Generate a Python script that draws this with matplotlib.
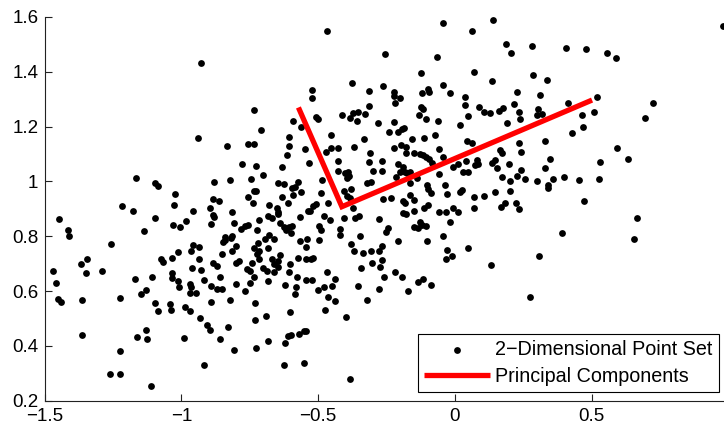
import matplotlib
matplotlib.use("Agg")
import matplotlib.pyplot as plt

# ---------------- data ----------------
point_x = [
    # upper-left
    -0.928, -0.735, -0.709, -0.939,
    # upper-middle
    -0.467, -0.042, 0.063, 0.140, -0.257, -0.064, -0.124, 0.072, 0.135, -0.375,
    -0.522, -0.522, -0.314, -0.263, -0.223, -0.221, -0.200, -0.218, -0.121, -0.097,
    -0.095, -0.042, -0.018, 0.038, 0.037, 0.088, 0.105, 0.129, 0.050, 0.019,
    -0.060, -0.107, -0.132, -0.123, -0.118, -0.314, -0.329, -0.357, -0.354, -0.372,
    -0.385, -0.411, -0.508, -0.501, -0.591, -0.562, -0.607, -0.452, -0.280, -0.224,
    -0.239, -0.206, -0.194, -0.184, -0.331, -0.155, -0.111, -0.073, 0.046, 0.062,
    # upper-right
    0.189, 0.205, 0.283, 0.407, 0.480, 0.557, 0.590, 0.982, 0.286, 0.339,
    0.227, 0.313, 0.521, 0.726, 0.697, 0.414, 0.510, 0.467, 0.470, 0.429,
    0.331, 0.236, 0.163, 0.178, 0.217, 0.233, 0.240, 0.192, 0.303, 0.300, 0.320,
    # middle-left
    -0.832, -0.755, -0.735, -0.780, -0.726, -0.703, -0.745, -0.821, -0.879, -1.166,
    -1.095, -1.086, -1.023, -1.027, -1.219, -1.177, -1.447, -1.415, -1.410, -1.136,
    -1.096, -1.029, -1.004, -0.982, -0.957, -0.897, -0.886, -0.861, -0.883, -0.879,
    -0.891, -0.814, -0.808, -0.756, -0.739, -0.735, -0.726, -0.681, -0.685, -0.715,
    -0.767, -0.781, -0.758, -0.725, -0.681, -0.694, -0.718, -0.736, -0.717, -0.724,
    -0.684, -0.715, -0.741, -0.760, -0.748, -0.700, -0.687, -0.801, -0.814, -0.840,
    -0.842, -0.847, -0.814, -0.817, -0.850, -0.791, -0.801, -0.883, -0.870, -0.928,
    -0.960, -0.935, -0.956, -0.934, -0.964, -1.011, -1.035, -1.076, -1.068, -1.259,
    -1.345, -1.369, -1.291, -1.470,
    # lower-left
    -1.348, -1.034, -1.458, -1.450, -1.440, -1.364, -1.363, -1.223, -1.225, -1.260,
    -1.226, -1.110, -1.168, -1.109, -1.146, -1.131, -1.096, -1.085, -1.163, -1.129,
    -1.124, -1.034, -1.013, -1.009, -1.042, -1.037, -0.987, -0.967, -0.990, -0.967,
    -0.965, -0.970, -0.948, -0.918, -0.890, -0.869, -0.850, -0.858, -0.891, -0.824,
    -0.800, -0.767, -0.749, -0.736, -0.683, -0.729, -0.692, -0.730, -0.684, -0.726,
    -0.806, -0.857, -0.830, -0.907, -0.897, -0.932, -0.919,
    # lower-middle
    -0.620, -0.580, -0.583, -0.577, -0.545, -0.524, -0.502, -0.478, -0.450, -0.440,
    -0.462, -0.437, -0.475, -0.601, -0.397, -0.355, -0.322, -0.278, -0.258, -0.218,
    -0.193, -0.173, -0.135, -0.115, -0.087, -0.622, -0.611, -0.598, -0.570, -0.552,
    -0.543, -0.624, -0.553, -0.383, 0.275,
    # middle-right
    0.166, 0.172, 0.241, 0.147, 0.137, 0.154, 0.200, 0.243, 0.227, 0.172,
    0.203, 0.258, 0.301, 0.347, 0.331, 0.360, 0.341, 0.340, 0.398, 0.454,
    0.526, 0.532, 0.592, 0.634, 0.473, 0.146, 0.203, 0.185, 0.169, 0.224,
    0.235, 0.668, 0.391, 0.654, 0.309, 0.133,
    # centre (left half)
    -0.606, -0.547, -0.613, -0.632, -0.535, -0.472, -0.452, -0.428, -0.428, -0.370,
    -0.310, -0.313, -0.265, -0.426, -0.401, -0.391, -0.386, -0.395, -0.298, -0.265,
    -0.322, -0.306, -0.486, -0.647, -0.623, -0.574, -0.596, -0.586, -0.562, -0.590,
    -0.632, -0.611, -0.489, -0.464, -0.508, -0.517, -0.537, -0.529, -0.651, -0.647,
    -0.645, -0.667, -0.639, -0.623, -0.608, -0.618, -0.596, -0.566, -0.477, -0.456,
    -0.404, -0.380, -0.395, -0.383, -0.374, -0.365, -0.352, -0.404, -0.276, -0.598,
    -0.663, -0.496, -0.489, -0.419, -0.419, -0.346, -0.566, -0.541, -0.496, -0.545,
    -0.380, -0.370, -0.335, -0.306, -0.279, -0.267, -0.669, -0.639, -0.645, -0.663,
    -0.647, -0.574, -0.545, -0.525, -0.517, -0.602, -0.608, -0.660, -0.468, -0.343,
    -0.303, -0.273, -0.267,
    # centre (right half)
    -0.222, -0.197, -0.178, -0.178, -0.151, -0.129, -0.117, -0.105, -0.093, -0.084,
    -0.044, -0.056, -0.206, -0.190, -0.200, -0.182, -0.163, -0.215, -0.175, -0.163,
    -0.137, -0.058, -0.007, 0.010, 0.041, 0.029, 0.050, 0.080, 0.074, 0.086,
    -0.102, -0.097, -0.088, -0.035, -0.027, 0.026, 0.019, 0.071, 0.107, -0.163,
    -0.149, -0.188, -0.182, -0.263, -0.234, -0.097, -0.112, -0.148, -0.188, -0.178,
    -0.056, -0.032, -0.005, 0.013, 0.071, -0.127, -0.121, -0.133, -0.151, -0.105,
    -0.243, -0.251, -0.017, -0.044, -0.102, -0.206, -0.029, -0.011, -0.032, 0.050,
]
point_y = [
    1.432, 1.261, 1.188, 1.158,
    1.548, 1.579, 1.548, 1.590, 1.464, 1.454, 1.395, 1.399, 1.367, 1.360,
    1.333, 1.305, 1.331, 1.348, 1.326, 1.313, 1.303, 1.287, 1.323, 1.336,
    1.326, 1.352, 1.323, 1.310, 1.280, 1.273, 1.253, 1.251, 1.238, 1.205,
    1.219, 1.229, 1.241, 1.273, 1.263, 1.274, 1.245, 1.222, 1.252, 1.249,
    1.232, 1.242, 1.235, 1.228, 1.222, 1.197, 1.161, 1.168, 1.212, 1.217,
    1.179, 1.181, 1.190, 1.196, 1.156, 1.156, 1.157, 1.169, 1.149, 1.139,
    1.501, 1.467, 1.495, 1.488, 1.482, 1.468, 1.450, 1.568, 1.387, 1.369,
    1.326, 1.314, 1.310, 1.287, 1.231, 1.287, 1.253, 1.243, 1.197, 1.176,
    1.147, 1.139, 1.257, 1.268, 1.281, 1.253, 1.228, 1.212, 1.263, 1.243, 1.247,
    1.129, 1.135, 1.135, 1.065, 1.056, 1.025, 1.010, 1.004, 0.998, 1.014,
    0.995, 0.982, 0.954, 0.915, 0.909, 0.891, 0.863, 0.822, 0.801, 0.818,
    0.866, 0.842, 0.833, 0.857, 0.892, 0.902, 0.936, 0.929, 0.878, 0.869,
    0.846, 0.889, 0.850, 0.942, 0.920, 0.964, 0.966, 0.913, 0.873, 0.858,
    0.837, 0.825, 0.842, 0.822, 0.805, 0.789, 0.775, 0.758, 0.747, 0.736,
    0.758, 0.717, 0.701, 0.680, 0.674, 0.683, 0.674, 0.763, 0.745, 0.798,
    0.786, 0.780, 0.802, 0.795, 0.736, 0.710, 0.701, 0.703, 0.693, 0.678,
    0.683, 0.718, 0.769, 0.762, 0.745, 0.743, 0.721, 0.717, 0.706, 0.771,
    0.717, 0.699, 0.674, 0.672,
    0.667, 0.667, 0.630, 0.572, 0.561, 0.567, 0.441, 0.575, 0.382, 0.298,
    0.297, 0.255, 0.645, 0.651, 0.588, 0.605, 0.557, 0.528, 0.433, 0.458,
    0.425, 0.648, 0.637, 0.614, 0.553, 0.531, 0.543, 0.526, 0.429, 0.625,
    0.614, 0.594, 0.592, 0.639, 0.619, 0.608, 0.608, 0.651, 0.561, 0.568,
    0.626, 0.600, 0.630, 0.653, 0.638, 0.557, 0.508, 0.494, 0.418, 0.393,
    0.384, 0.425, 0.470, 0.476, 0.457, 0.503, 0.329,
    0.623, 0.615, 0.591, 0.653, 0.642, 0.641, 0.604, 0.616, 0.619, 0.643,
    0.580, 0.565, 0.530, 0.524, 0.507, 0.619, 0.569, 0.609, 0.650, 0.669,
    0.653, 0.600, 0.633, 0.645, 0.623, 0.412, 0.436, 0.439, 0.443, 0.456,
    0.455, 0.329, 0.337, 0.280, 0.577,
    1.115, 1.103, 1.108, 1.078, 1.068, 1.048, 1.063, 1.041, 1.021, 1.017,
    1.001, 1.008, 1.002, 1.083, 1.050, 1.009, 0.987, 0.975, 1.015, 1.004,
    1.009, 1.070, 1.121, 1.083, 0.930, 0.961, 0.964, 0.920, 0.906, 0.921,
    0.898, 0.866, 0.812, 0.789, 0.728, 0.696,
    1.129, 1.120, 1.098, 1.054, 1.066, 1.107, 1.122, 1.122, 1.076, 1.125,
    1.105, 1.071, 1.074, 1.037, 1.030, 1.036, 1.020, 1.011, 1.037, 1.037,
    0.995, 0.999, 1.005, 0.995, 0.990, 0.999, 0.975, 0.981, 0.963, 0.951,
    0.942, 0.920, 0.957, 0.920, 0.918, 0.910, 0.893, 0.893, 0.902, 0.890,
    0.881, 0.866, 0.850, 0.833, 0.833, 0.823, 0.837, 0.869, 0.874, 0.859,
    0.966, 0.971, 0.947, 0.939, 0.902, 0.866, 0.874, 0.866, 0.863, 0.811,
    0.789, 0.837, 0.823, 0.825, 0.805, 0.802, 0.784, 0.789, 0.786, 0.762,
    0.772, 0.747, 0.740, 0.747, 0.747, 0.766, 0.716, 0.732, 0.711, 0.699,
    0.689, 0.720, 0.716, 0.716, 0.720, 0.699, 0.671, 0.671, 0.671, 0.683,
    0.701, 0.689, 0.713,
    1.121, 1.133, 1.127, 1.105, 1.105, 1.100, 1.096, 1.090, 1.081, 1.068,
    1.090, 1.117, 1.064, 1.054, 1.036, 1.036, 1.036, 1.017, 1.030, 0.993,
    1.011, 1.026, 1.054, 1.064, 1.076, 1.033, 1.033, 1.078, 1.060, 1.064,
    0.987, 0.971, 0.957, 0.987, 0.954, 0.969, 0.960, 0.944, 0.948, 0.951,
    0.932, 0.930, 0.920, 0.935, 0.939, 0.914, 0.902, 0.893, 0.884, 0.881,
    0.890, 0.890, 0.902, 0.890, 0.902, 0.853, 0.841, 0.829, 0.835, 0.837,
    0.829, 0.817, 0.853, 0.801, 0.784, 0.784, 0.750, 0.728, 0.716, 0.756,
]

# principal components: second end, mean, first end
pc_x = [-0.572, -0.413, 0.502]
pc_y = [1.270, 0.908, 1.297]

# tick at x = 1 lies just outside the visible picture, as in the reference
x_ticks = [-1.5, -1.0, -0.5, 0.0, 0.5]
x_tick_labels = ["\u22121.5", "\u22121", "\u22120.5", "0", "0.5"]
y_ticks = [0.2, 0.4, 0.6, 0.8, 1.0, 1.2, 1.4, 1.6]
y_tick_labels = ["0.2", "0.4", "0.6", "0.8", "1", "1.2", "1.4", "1.6"]

legend_labels = ["2\u2212Dimensional Point Set", "Principal Components"]

# ---------------- figure ----------------
plt.rcParams["font.family"] = ["Liberation Sans", "DejaVu Sans"]

W, H = 724, 426
fig = plt.figure(figsize=(W / 100, H / 100), dpi=100)
ax = fig.add_axes([44.7 / W, 25.2 / H, (728.2 - 44.7) / W, 383.8 / H])

ax.scatter(point_x, point_y, s=24, c="black", linewidths=0, zorder=2,
           label=legend_labels[0])
ax.plot(pc_x, pc_y, color="red", lw=3.8, solid_joinstyle="miter",
        solid_capstyle="butt", zorder=3, label=legend_labels[1])

ax.set_xlim(-1.5, 1.0)
ax.set_ylim(0.2, 1.6)
ax.set_xticks(x_ticks)
ax.set_xticklabels(x_tick_labels)
ax.set_yticks(y_ticks)
ax.set_yticklabels(y_tick_labels)

for side in ("top", "right"):
    ax.spines[side].set_visible(False)
for side in ("left", "bottom"):
    ax.spines[side].set_linewidth(0.8)
    ax.spines[side].set_color("#222222")

ax.tick_params(direction="in", length=5, width=0.8, color="#222222",
               labelsize=13.5, labelcolor="black")
ax.tick_params(axis="y", pad=4.5)
ax.tick_params(axis="x", pad=5.2)

leg = ax.legend(loc="lower right", bbox_to_anchor=(0.966, 0.232),
                bbox_transform=ax.transData, borderaxespad=0,
                fontsize=14.2, scatterpoints=1, handlelength=3.35,
                handletextpad=0.29, borderpad=0.31, labelspacing=0.40,
                fancybox=False, framealpha=1, edgecolor="black")
leg.get_frame().set_linewidth(0.8)

fig.savefig("out.png", dpi=100)
